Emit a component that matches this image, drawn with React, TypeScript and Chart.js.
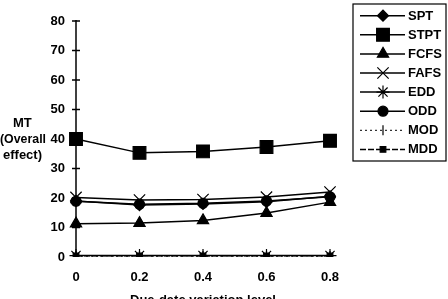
import React, { useEffect, useRef } from "react";
import { Chart, registerables, PointElement } from "chart.js";

Chart.register(...registerables);

const categories = ["0", "0.2", "0.4", "0.6", "0.8"];
const spt = [19, 17.6, 18, 18.7, 20.6];
const stpt = [40, 35.3, 35.8, 37.3, 39.4];
const fcfs = [11.3, 11.5, 12.4, 14.9, 18.6];
const fafs = [20.2, 19.3, 19.5, 20.3, 22];
const edd = [0.5, 0.5, 0.5, 0.5, 0.5];
const odd = [18.9, 17.9, 18.2, 19, 20.4];
const mod = [0.3, 0.3, 0.3, 0.3, 0.3];
const mdd = [0.4, 0.4, 0.4, 0.4, 0.4];
const yTitleLines = ["MT", "(Overall", "effect)"];
const xTitle = "Due-date variation level";

const FONT = "'Liberation Sans', Arial, sans-serif";

function fitText(ctx: any, text: string, left: number, cy: number, width: number) {
  const w = ctx.measureText(text).width;
  const s = Math.min(1, width / w);
  ctx.save();
  ctx.translate(left, cy);
  ctx.scale(s, 1);
  ctx.textAlign = "left";
  ctx.textBaseline = "middle";
  ctx.fillText(text, 0, 0);
  ctx.restore();
}

const decor = {
  id: "decor",
  afterDraw(chart: any) {
    const ctx = chart.ctx;
    const area = chart.chartArea;
    const y = chart.scales.y;
    ctx.save();
    ctx.strokeStyle = "#000";
    ctx.lineWidth = 1.5;
    ctx.beginPath();
    ctx.moveTo(area.left, y.getPixelForValue(80) - 1);
    ctx.lineTo(area.left, y.getPixelForValue(0));
    ctx.stroke();
    for (let v = 10; v <= 80; v += 10) {
      const py = y.getPixelForValue(v);
      ctx.beginPath();
      ctx.moveTo(area.left - 4, py);
      ctx.lineTo(area.left + 4, py);
      ctx.stroke();
    }
    // y title
    ctx.fillStyle = "#000";
    ctx.font = "bold 13px " + FONT;
    fitText(ctx, yTitleLines[0], 13, 123.5, 20);
    fitText(ctx, yTitleLines[1], 0, 139.5, 46);
    fitText(ctx, yTitleLines[2], 3, 155, 40);
    // x title
    ctx.textAlign = "center";
    ctx.textBaseline = "middle";
    ctx.fillText(xTitle, 203, 300);
    // legend
    const lx = 353, ly = 4, lw = 93, lh = 157;
    ctx.lineWidth = 1.2;
    ctx.strokeRect(lx, ly, lw, lh);
    chart.data.datasets.forEach((ds: any, i: number) => {
      const ry = 15.7 + i * 19.1;
      ctx.save();
      ctx.lineWidth = ds.borderWidth;
      ctx.setLineDash(ds.borderDash || []);
      ctx.beginPath();
      ctx.moveTo(360, ry);
      ctx.lineTo(405, ry);
      ctx.stroke();
      ctx.restore();
      const meta = chart.getDatasetMeta(i);
      const opts = meta.data[0].options;
      const el: any = new (PointElement as any)({});
      el.x = 383;
      el.y = ry;
      el.options = opts;
      el.draw(ctx);
      ctx.fillStyle = "#000";
      ctx.font = "bold 13px " + FONT;
      ctx.textAlign = "left";
      ctx.textBaseline = "middle";
      ctx.fillText(ds.label, 408, ry + 0.5);
    });
    ctx.restore();
  },
};

function mk(label: string, data: number[], pointStyle: string, radius: number, extra: any = {}) {
  return {
    label,
    data,
    borderColor: "#000",
    backgroundColor: "#000",
    borderWidth: 1.5,
    pointStyle,
    pointRadius: radius,
    pointBorderWidth: 1.2,
    pointBackgroundColor: "#000",
    pointBorderColor: "#000",
    tension: 0,
    ...extra,
  };
}

export default function App() {
  const ref = useRef<HTMLCanvasElement>(null);
  useEffect(() => {
    const chart = new Chart(ref.current!, {
      type: "line",
      data: {
        labels: categories,
        datasets: [
          mk("SPT", spt, "rectRot", 5.5),
          mk("STPT", stpt, "rect", 9),
          mk("FCFS", fcfs, "triangle", 6.5),
          mk("FAFS", fafs, "crossRot", 8),
          mk("EDD", edd, "star", 6.5),
          mk("ODD", odd, "circle", 5),
          mk("MOD", mod, "line", 5, { pointRotation: 90, borderDash: [2, 3], borderWidth: 1 }),
          mk("MDD", mdd, "rect", 4, { borderDash: [6, 2] }),
        ] as any,
      },
      options: {
        animation: false,
        responsive: false,
        events: [],
        layout: { padding: { top: 21, right: 118, bottom: 0, left: 0 } },
        plugins: { legend: { display: false }, tooltip: { enabled: false } },
        scales: {
          x: {
            type: "category",
            offset: false,
            grid: { display: false, drawTicks: false },
            border: { display: false },
            ticks: { color: "#000", font: { family: FONT, size: 13, weight: "bold" }, padding: 13, maxRotation: 0 },
            afterFit: (s: any) => { s.height = 42; },
          },
          y: {
            min: 0,
            max: 80,
            grid: { display: false, drawTicks: false },
            border: { display: false },
            ticks: { stepSize: 10, color: "#000", font: { family: FONT, size: 13, weight: "bold" }, padding: 11 },
            afterFit: (s: any) => { s.width = 76; },
          },
        },
      } as any,
      plugins: [decor],
    });
    return () => chart.destroy();
  }, []);
  return (
    <div style={{ position: "absolute", left: 0, top: 0, width: 448, height: 299, background: "#fff" }}>
      <canvas ref={ref} width={448} height={299} />
    </div>
  );
}
